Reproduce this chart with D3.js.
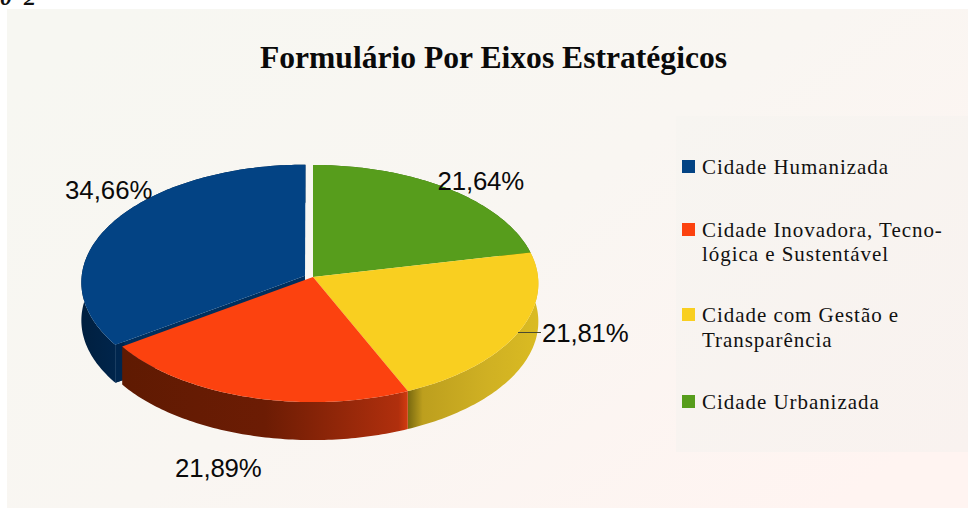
<!DOCTYPE html>
<html><head><meta charset="utf-8">
<script src="https://cdn.jsdelivr.net/npm/d3@7/dist/d3.min.js"></script>
<style>html,body{margin:0;padding:0;background:#fff;overflow:hidden}svg{display:block}</style>
</head><body><svg id="c" width="968" height="508"></svg>
<script>
const categories=["Cidade Humanizada","Cidade Inovadora, Tecnológica e Sustentável","Cidade com Gestão e Transparência","Cidade Urbanizada"];
const values=[34.66,21.89,21.81,21.64];
const colors=["#034384","#fc420f","#f9cf20","#579d1c"];
const legendLines=[["Cidade Humanizada"],["Cidade Inovadora, Tecno-","lógica e Sustentável"],["Cidade com Gestão e","Transparência"],["Cidade Urbanizada"]];
const title="Formulário Por Eixos Estratégicos";

const W=968,H=508;
const svg=d3.select("#c");
const defs=svg.append("defs");
function grad(id,attrs,stops){
  const g=defs.append("linearGradient").attr("id",id).attr("gradientUnits","userSpaceOnUse")
    .attr("x1",attrs.x1).attr("y1",attrs.y1).attr("x2",attrs.x2).attr("y2",attrs.y2);
  stops.forEach(s=>g.append("stop").attr("offset",s[0]).attr("stop-color",s[1]));
}
grad("bg",{x1:250,y1:-80,x2:720,y2:590},[[0,"#f7f7f2"],[0.5,"#f9f6f2"],[1,"#fff4f1"]]);
grad("lg",{x1:676,y1:116,x2:968,y2:452},[[0,"#f7f5f1"],[1,"#f9f2ef"]]);
grad("w0",{x1:80,y1:0,x2:125,y2:0},[[0,"#001f3f"],[1,"#00264e"]]);
grad("w1",{x1:123,y1:0,x2:407,y2:0},[[0,"#5f1a02"],[0.5,"#6c1c04"],[0.97,"#b02f0d"],[1,"#d03b10"]]);
grad("w2",{x1:407,y1:0,x2:538,y2:0},[[0,"#75660f"],[0.12,"#bd9f1e"],[0.6,"#cfb023"],[1,"#dabb22"]]);
grad("w3",{x1:313,y1:0,x2:538,y2:0},[[0,"#3a6a12"],[1,"#3a6a12"]]);

svg.append("rect").attr("x",7).attr("y",9).attr("width",W-7).attr("height",H-9).attr("fill","url(#bg)");
svg.append("rect").attr("x",676).attr("y",116).attr("width",W-676).attr("height",336).attr("fill","url(#lg)");

// clipped remnant of the heading above the chart
svg.append("text").attr("x",0).attr("y",4.5).attr("font-family","Liberation Serif").attr("font-weight","bold")
  .attr("font-style","italic").attr("font-size",24).attr("letter-spacing",3).attr("fill","#111").text("0 2");

svg.append("text").attr("x",493.5).attr("y",68).attr("text-anchor","middle").attr("font-family","Liberation Serif")
  .attr("font-weight","bold").attr("font-size",31.6).attr("fill","#0a0a0a").text(title);

// perspective projection of the unit disc
const cx=313,cy=277,R=225,Rm=118.2,k=0.055,depth=38;
const project=(u,v,off=[0,0])=>{const U=u+off[0],V=v+off[1],s=1+k*V;return [cx+R*U/s,cy-Rm*V/s];};
const onDisc=(a,off,r)=>project(r*Math.sin(a),r*Math.cos(a),off);
const line=d3.line();
const drop=p=>[p[0],p[1]+depth];

const pie=d3.pie().sort(null).startAngle(2*Math.PI).endAngle(0);
const arcs=pie(values).map((d,i)=>{
  const off=i===0?[-0.0355,0.01]:[0,0];
  const r=i===0?0.993:1;
  const n=Math.max(8,Math.ceil(Math.abs(d.endAngle-d.startAngle)*60));
  const rim=d3.range(n+1).map(j=>onDisc(d.startAngle+(d.endAngle-d.startAngle)*j/n,off,r));
  return {i,off,rim,apex:project(0,0,off)};
});

const g=svg.append("g");
// side walls, back to front
[3,0,2,1].forEach(i=>{
  const a=arcs[i];
  if(i===0){
    const corner=a.rim[a.rim.length-1];
    g.append("path").attr("d",line([a.apex,corner,drop(corner),drop(a.apex)])+"Z").attr("fill","#002f5e");
  }
  g.append("path").attr("d",line(a.rim.concat(a.rim.map(drop).reverse()))+"Z").attr("fill",`url(#w${i})`);
  if(i===0){
    const corner=a.rim[a.rim.length-1];
    const inner=[corner[0]+9,corner[1]-3];
    g.append("path").attr("d",line([corner,inner,drop(inner),drop(corner)])+"Z").attr("fill","#00264e");
  }
  if(i===0) g.append("path").attr("d",line([a.apex].concat(a.rim))+"Z").attr("fill",colors[0]);
});
// top faces
[3,2,1].forEach(i=>{
  const a=arcs[i];
  g.append("path").attr("d",line([a.apex].concat(a.rim))+"Z").attr("fill",colors[i]);
});

// leader line and value labels
const fmt=v=>d3.format(".2f")(v).replace(".",",")+"%";
svg.append("line").attr("x1",518).attr("y1",332.5).attr("x2",541).attr("y2",332.5).attr("stroke","#4a4a30").attr("stroke-width",1);
const labelPos=[[65,199],[175,477],[542,342],[437.5,190]];
values.forEach((v,i)=>{
  svg.append("text").attr("x",labelPos[i][0]).attr("y",labelPos[i][1]).attr("font-family","Liberation Sans")
    .attr("font-size",25.8).attr("letter-spacing",i===0?0:-0.15).attr("fill","#0a0a0a").text(fmt(v));
});

// legend
const legendY=[[174],[237,261],[322,347],[409]];
categories.forEach((c,i)=>{
  svg.append("rect").attr("x",682).attr("y",legendY[i][0]-14).attr("width",13).attr("height",13).attr("fill",colors[i]);
  legendLines[i].forEach((t,j)=>{
    svg.append("text").attr("x",702).attr("y",legendY[i][j]).attr("font-family","Liberation Serif")
      .attr("font-size",21).attr("letter-spacing",0.95).attr("fill","#111").text(t);
  });
});
</script></body></html>
